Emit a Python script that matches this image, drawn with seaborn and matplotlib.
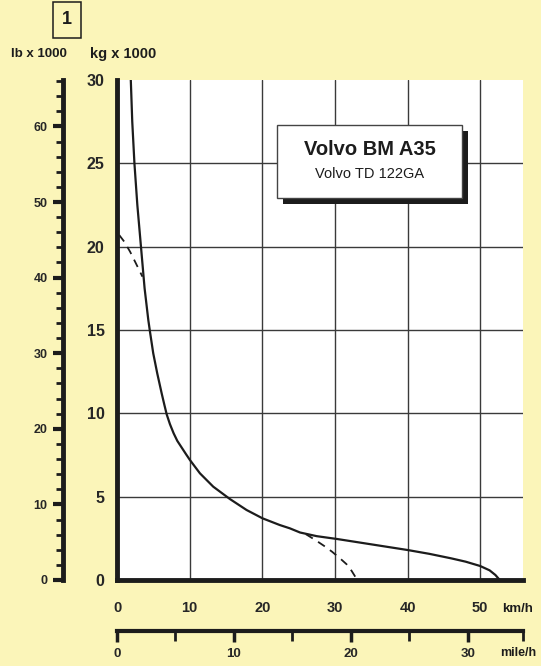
import matplotlib
matplotlib.use("Agg")
import matplotlib.pyplot as plt
import matplotlib.transforms as mtransforms
from matplotlib.patches import Rectangle
from matplotlib.ticker import MultipleLocator, FixedLocator
import seaborn as sns
import pandas as pd

# rimpull curve (km/h, kg x 1000)
speed_main = [1.9, 2.1, 2.4, 2.8, 3.3, 3.8, 4.31, 4.54, 4.99, 5.54, 6.15, 6.5, 6.84, 7.29,
              7.8, 8.3, 8.9, 9.5, 10.04, 11.42, 13.25, 15.54, 17.84, 20.04, 22.4, 23.8,
              25.2, 27.5, 30.3, 35.0, 40.0, 43.0, 46.0, 48.0, 50.0, 51.3, 52.1, 52.7]
force_main = [30.0, 27.5, 25.0, 22.5, 20.0, 17.5, 15.6, 14.9, 13.6, 12.4, 11.2, 10.55, 9.94, 9.35,
              8.8, 8.35, 7.95, 7.55, 7.2, 6.4, 5.6, 4.86, 4.2, 3.7, 3.3, 3.1,
              2.85, 2.63, 2.46, 2.14, 1.8, 1.57, 1.3, 1.1, 0.84, 0.58, 0.3, 0.0]

# dashed branches
speed_low_gear = [0.3, 1.0, 1.8, 2.6, 3.5]
force_low_gear = [20.7, 20.3, 19.7, 19.0, 18.2]
speed_high_gear = [26.0, 27.3, 28.5, 29.6, 30.7, 31.6, 32.3, 32.8]
force_high_gear = [2.75, 2.4, 2.05, 1.7, 1.3, 0.95, 0.55, 0.2]

kmh_ticks = [0, 10, 20, 30, 40, 50]
mph_ticks = [0, 10, 20, 30]
kg_ticks = [0, 5, 10, 15, 20, 25, 30]
lb_ticks = [0, 10, 20, 30, 40, 50, 60]

bg = "#fbf5b9"
ink = "#1c1c1c"
font = "Liberation Sans"

sns.set_style("white")
plt.rcParams["font.family"] = [font, "DejaVu Sans"]
plt.rcParams["text.color"] = ink

fig = plt.figure(figsize=(5.41, 6.66), dpi=100, facecolor=bg)
ax = fig.add_axes([117 / 541, 1 - 580 / 666, 406 / 541, 500 / 666])
ax.set_facecolor("white")

df_main = pd.DataFrame({"kmh": speed_main, "kg": force_main})
df_low = pd.DataFrame({"kmh": speed_low_gear, "kg": force_low_gear})
df_high = pd.DataFrame({"kmh": speed_high_gear, "kg": force_high_gear})

sns.lineplot(data=df_main, x="kmh", y="kg", ax=ax, sort=False, estimator=None,
             color=ink, linewidth=1.6, zorder=5)
for d in (df_low, df_high):
    sns.lineplot(data=d, x="kmh", y="kg", ax=ax, sort=False, estimator=None,
                 color=ink, linewidth=1.3, linestyle=(0, (4.5, 3.5)), zorder=5)

ax.set_xlim(0, 55.9)
ax.set_ylim(0, 30)
ax.set_xlabel("")
ax.set_ylabel("")

# grid
for v in kmh_ticks[1:]:
    ax.axvline(v, color="#3a3a3a", lw=1.0, zorder=1)
for v in kg_ticks[1:-1]:
    ax.axhline(v, color="#3a3a3a", lw=1.0, zorder=1)

for s in ("top", "right"):
    ax.spines[s].set_visible(False)
for s in ("left", "bottom"):
    ax.spines[s].set_linewidth(3.5)
    ax.spines[s].set_color(ink)

ax.xaxis.set_major_locator(FixedLocator(kmh_ticks))
ax.xaxis.set_minor_locator(FixedLocator(list(range(2, 55, 2))))
ax.yaxis.set_major_locator(FixedLocator(kg_ticks))
ax.yaxis.set_minor_locator(MultipleLocator(1))
ax.tick_params(axis="x", which="major", direction="out", length=8, width=3,
               color=ink, pad=7, labelsize=10.5)
ax.tick_params(axis="x", which="minor", direction="out", length=5, width=2, color=ink)
ax.tick_params(axis="y", which="major", direction="out", length=6, width=3,
               color=ink, pad=3, labelsize=11.5)
ax.tick_params(axis="y", which="minor", direction="out", length=5, width=2, color=ink)
for lab in ax.get_xticklabels() + ax.get_yticklabels():
    lab.set_fontweight("bold")

# lb x 1000 axis
lb = ax.secondary_yaxis(-0.133, functions=(lambda k: k * 2.20462, lambda p: p / 2.20462))
lb.yaxis.set_major_locator(FixedLocator(lb_ticks))
lb.yaxis.set_minor_locator(MultipleLocator(2))
lb.spines["left"].set_linewidth(3.5)
lb.spines["left"].set_color(ink)
lb.tick_params(which="major", direction="out", length=7, width=3, color=ink,
               pad=4, labelsize=9)
lb.tick_params(which="minor", direction="out", length=5, width=2, color=ink)
for lab in lb.get_yticklabels():
    lab.set_fontweight("bold")

# mile/h axis
mph = ax.secondary_xaxis(-0.102, functions=(lambda k: k / 1.609344, lambda m: m * 1.609344))
mph.xaxis.set_major_locator(FixedLocator(mph_ticks))
mph.xaxis.set_minor_locator(FixedLocator([5, 15, 25, 55.9 / 1.609344]))
mph.spines["bottom"].set_linewidth(3)
mph.spines["bottom"].set_color(ink)
mph.tick_params(which="major", direction="out", length=8, width=2.5, color=ink,
                pad=4, labelsize=9.5)
mph.tick_params(which="minor", direction="out", length=7, width=2, color=ink)
for lab in mph.get_xticklabels():
    lab.set_fontweight("bold")

# unit labels
fig.text(39 / 541, 1 - 54 / 666, "lb x 1000", ha="center", va="center",
         fontsize=9.5, fontweight="bold")
fig.text(123 / 541, 1 - 54 / 666, "kg x 1000", ha="center", va="center",
         fontsize=10.5, fontweight="bold")
fig.text(518 / 541, 1 - 609 / 666, "km/h", ha="center", va="center",
         fontsize=9.5, fontweight="bold")
fig.text(518 / 541, 1 - 653 / 666, "mile/h", ha="center", va="center",
         fontsize=9, fontweight="bold")

# boxed figure number
fig.text(67 / 541, 1 - 20 / 666, "1", ha="center", va="center", fontsize=13,
         fontweight="bold",
         bbox=dict(boxstyle="square,pad=0.5", fc=bg, ec=ink, lw=1.1))

# title box with drop shadow
bx, by, bw, bh = 0.394, 0.764, 0.456, 0.146
shadow_tr = ax.transAxes + mtransforms.ScaledTranslation(6 / 100, -6 / 100, fig.dpi_scale_trans)
ax.add_patch(Rectangle((bx, by), bw, bh, transform=shadow_tr, fc=ink, ec="none", zorder=6))
ax.add_patch(Rectangle((bx, by), bw, bh, transform=ax.transAxes, fc="white", ec="#444444",
                       lw=1.0, zorder=7))
ax.text(bx + bw / 2, by + bh * 0.66, "Volvo BM A35", transform=ax.transAxes, ha="center",
        va="center", fontsize=14.5, fontweight="bold", zorder=8)
ax.text(bx + bw / 2, by + bh * 0.33, "Volvo TD 122GA", transform=ax.transAxes, ha="center",
        va="center", fontsize=10.5, zorder=8)

fig.savefig("out.png", dpi=100, facecolor=bg)
